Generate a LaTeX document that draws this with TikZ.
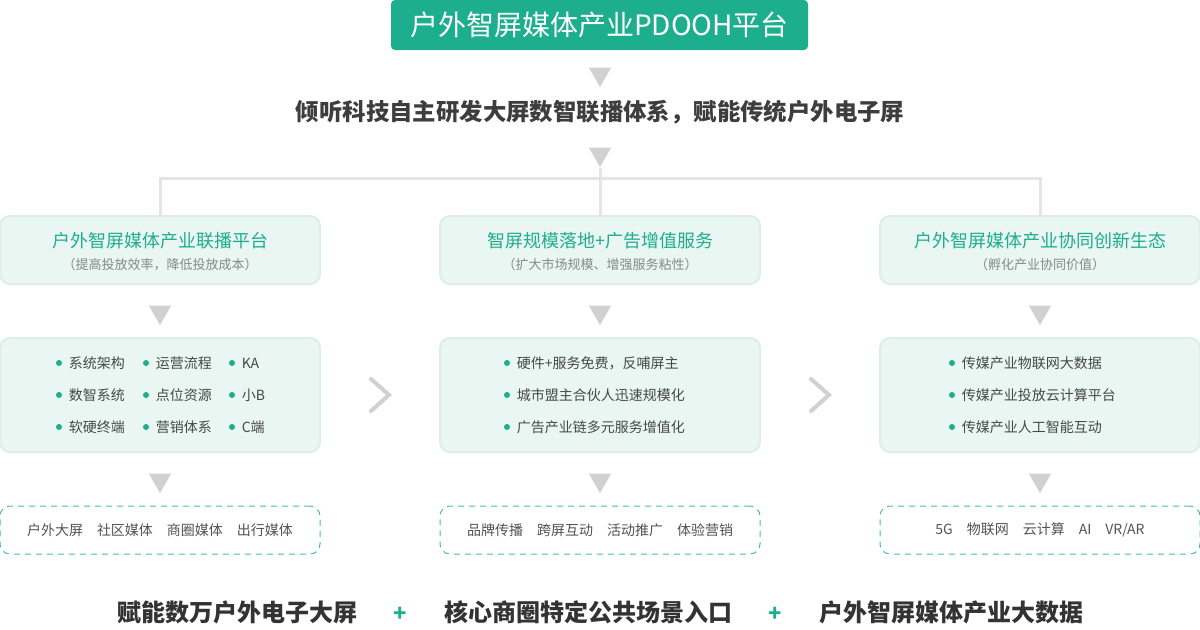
\documentclass[tikz,border=0pt]{standalone}
\usepackage{fontspec}
\setmainfont{Noto Sans CJK SC}
\usetikzlibrary{positioning}
\definecolor{brand}{HTML}{1DAE8E}
\definecolor{pale}{HTML}{E9F6F2}
\definecolor{paleline}{HTML}{DCEEE8}
\definecolor{ink}{HTML}{333333}
\definecolor{soft}{HTML}{888888}
\tikzset{
  tri/.style={fill=black!18,draw=none,regular polygon,regular polygon sides=3,shape border rotate=180,inner sep=0pt,minimum size=13pt},
  panel/.style={rounded corners=5pt,fill=pale,draw=paleline,line width=1pt,minimum width=160pt,minimum height=34pt,outer sep=0pt},
  itembox/.style={panel,minimum height=57pt},
  dashbox/.style={rounded corners=5pt,draw=brand!80,dashed,dash pattern=on 3pt off 2.5pt,line width=0.5pt,minimum width=160pt,minimum height=24pt},
  head/.style={font=\fontsize{9}{10}\selectfont,text=brand},
  sub/.style={font=\fontsize{6.5}{8}\selectfont,text=soft},
  item/.style={font=\fontsize{7}{8}\selectfont,text=ink!90,anchor=west,inner sep=0pt},
  dot/.style={circle,fill=brand,inner sep=0pt,minimum size=3pt},
  tag/.style={font=\fontsize{7}{8}\selectfont,text=ink!85},
  tree/.style={draw=black!10,line width=1.5pt},
  slogan/.style={font=\fontsize{12}{14}\selectfont\bfseries,text=ink},
  plus/.style={text=brand,font=\fontsize{11}{13}\selectfont\bfseries},
}
\usetikzlibrary{shapes.geometric}
\begin{document}
\begin{tikzpicture}[x=0.5pt,y=-0.5pt]
	\useasboundingbox (0,0) rectangle (1200,629);
	\node [fill=brand,rounded corners=2pt,minimum width=208.5pt,minimum height=25pt,text=white,font=\fontsize{14}{16}\selectfont] at (599.5,25) (top) {户外智屏媒体产业PDOOH平台};
	\node [tri] at (600,74) (t1) {};
	\node [font=\fontsize{11.7}{13}\selectfont\bfseries,text=ink!95] at (600,112) (vision) {倾听科技自主研发大屏数智联播体系，赋能传统户外电子屏};
	\node [tri] at (600,154) (t2) {};

	% three columns
	\foreach \n/\x/\h/\s in {a/160/户外智屏媒体产业联播平台/（提高投放效率，降低投放成本）,
	                         b/600/智屏规模落地+广告增值服务/（扩大市场规模、增强服务粘性）,
	                         c/1040/户外智屏媒体产业协同创新生态/（孵化产业协同价值）} {
		\node [panel] at (\x,250) (\n1) {};
		\node [head] at (\x,241) (\n h) {\h};
		\node [sub] at (\x,265) (\n s) {\s};
		\node [tri] at (\x,312) (\n t1) {};
		\node [itembox] at (\x,395) (\n2) {};
		\node [tri] at (\x,480) (\n t2) {};
		\node [dashbox] at (\x,530) (\n3) {};
		\coordinate (\n j) at (\x,178);
	}
	\draw [tree] (a1.north) -- (aj) -- (cj) -- (c1.north);
	\draw [tree] (t2) -- (b1.north);

	% left items
	\foreach \t/\x/\y in {系统架构/59/363,运营流程/146/363,KA/232/363,
	                      数智系统/59/395,点位资源/146/395,小B/232/395,
	                      软硬终端/59/427,营销体系/146/427,C端/232/427} {
		\node [dot] at (\x,\y) (d) {};
		\node [item,right=3pt of d] {\t};
	}
	\foreach \t/\y in {硬件+服务免费，反哺屏主/363,城市盟主合伙人迅速规模化/395,广告产业链多元服务增值化/427} {
		\node [dot] at (507,\y) (d) {};
		\node [item,right=3pt of d] {\t};
	}
	\foreach \t/\y in {传媒产业物联网大数据/363,传媒产业投放云计算平台/395,传媒产业人工智能互动/427} {
		\node [dot] at (952,\y) (d) {};
		\node [item,right=3pt of d] {\t};
	}

	\node [tag] at (a3) {户外大屏\quad 社区媒体\quad 商圈媒体\quad 出行媒体};
	\node [tag] at (b3) {品牌传播\quad 跨屏互动\quad 活动推广\quad 体验营销};
	\node [tag] at (c3) {5G\quad 物联网\quad 云计算\quad AI\quad VR/AR};

	% chevrons
	\foreach \x in {380,820}
		\draw [draw=black!18,line width=2pt,line cap=round] (\x-9,379) -- (\x+9,395) -- (\x-9,411);

	% bottom line
	\node [slogan] at (237,612) (e1) {赋能数万户外电子大屏};
	\node [plus] at (400,614) (p1) {+};
	\node [slogan] at (588,612) (e2) {核心商圈特定公共场景入口};
	\node [plus] at (775,614) (p2) {+};
	\node [slogan] at (951,612) (e3) {户外智屏媒体产业大数据};
\end{tikzpicture}
\end{document}
